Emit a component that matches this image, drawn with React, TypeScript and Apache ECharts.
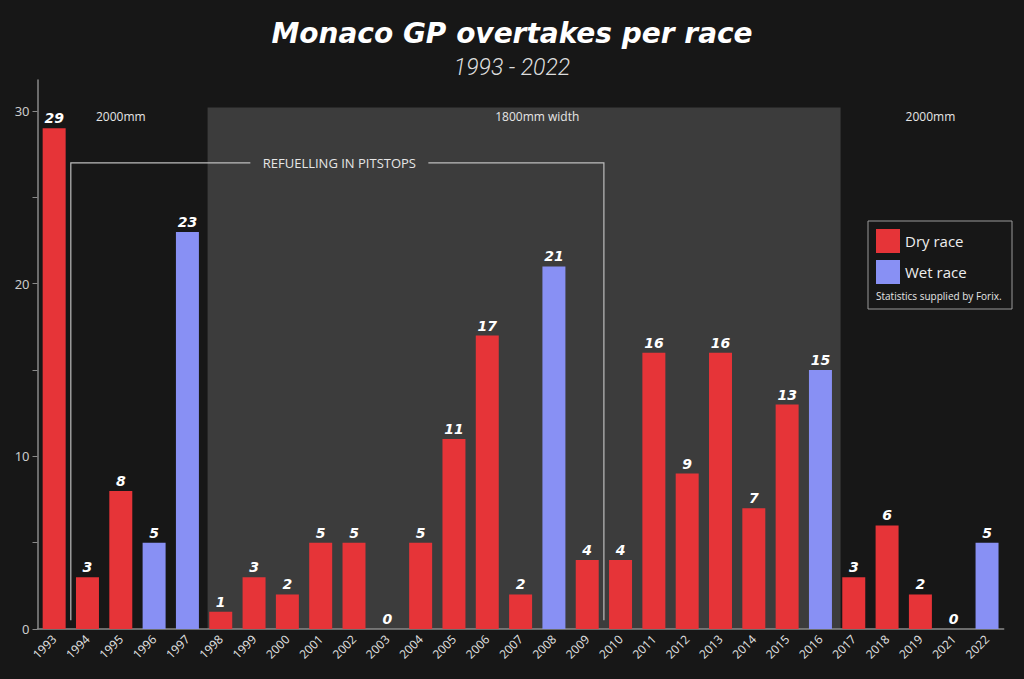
import React, { useEffect, useRef } from "react";
import * as echarts from "echarts";

const years = ["1993","1994","1995","1996","1997","1998","1999","2000","2001","2002","2003","2004","2005","2006","2007","2008","2009","2010","2011","2012","2013","2014","2015","2016","2017","2018","2019","2021","2022"];
const overtakes = [29,3,8,5,23,1,3,2,5,5,0,5,11,17,2,21,4,4,16,9,16,7,13,15,3,6,2,0,5];
const wetRace = [false,false,false,true,true,false,false,false,false,false,false,false,false,false,false,true,false,false,false,false,false,false,false,true,false,false,false,false,true];
const yTicks = [0,5,10,15,20,25,30];
const yLabels = [0,10,20,30];

const RED = "#e63438";
const BLUE = "#8890f4";
const BG = "#171717";
const SHADE = "#3c3c3c";

export default function App() {
  const ref = useRef<HTMLDivElement>(null);
  useEffect(() => {
    document.body.style.margin = "0";
    document.body.style.background = BG;
    const chart = echarts.init(ref.current!, null, { renderer: "svg" });
    const labelStyle = {
      show: true,
      position: "top" as const,
      distance: 3,
      color: "#ffffff",
      fontSize: 14,
      fontWeight: "bold" as const,
      fontStyle: "italic" as const,
      fontFamily: "DejaVu Sans",
    };
    chart.setOption({
      animation: false,
      backgroundColor: BG,
      title: {
        text: "Monaco GP overtakes per race",
        subtext: "1993 - 2022",
        left: "center",
        top: 14,
        itemGap: 9,
        textStyle: { color: "#ffffff", fontSize: 28, fontWeight: "bold", fontStyle: "italic", fontFamily: "DejaVu Sans" },
        subtextStyle: { color: "#dddddd", fontSize: 23, fontWeight: 300, fontStyle: "italic", fontFamily: "Roboto" },
      },
      legend: {
        data: ["Dry race", "Wet race"],
        orient: "vertical",
        left: 876,
        top: 229,
        icon: "rect",
        itemWidth: 24,
        itemHeight: 24,
        itemGap: 7,
        padding: 0,
        textStyle: { color: "#eeeeee", fontSize: 15, fontFamily: "Open Sans" },
      },
      grid: { left: 37.5, right: 20.3, top: 80, bottom: 50 },
      xAxis: {
        type: "category",
        data: years,
        axisLine: { lineStyle: { color: "#8a8a8a", width: 1.5 } },
        axisTick: { show: false },
        axisLabel: { color: "#dddddd", fontSize: 12, rotate: 45, fontFamily: "Noto Sans", margin: 8 },
      },
      yAxis: {
        type: "value",
        min: 0,
        max: 31.8,
        interval: 5,
        splitLine: { show: false },
        axisLine: { show: true, lineStyle: { color: "#8a8a8a", width: 1.5 } },
        axisTick: { show: true, length: 5, customValues: yTicks, lineStyle: { color: "#8a8a8a" } },
        axisLabel: { color: "#cccccc", fontSize: 13, fontFamily: "Noto Sans", customValues: yLabels },
      },
      series: [
        {
          name: "Dry race",
          type: "bar",
          barWidth: "69%",
          barGap: "-100%",
          z: 3,
          itemStyle: { color: RED },
          label: labelStyle,
          data: overtakes.map((v, i) => (wetRace[i] ? "-" : v)),
        },
        {
          name: "Wet race",
          type: "bar",
          barWidth: "69%",
          barGap: "-100%",
          z: 3,
          itemStyle: { color: BLUE },
          label: labelStyle,
          data: overtakes.map((v, i) => (wetRace[i] ? v : "-")),
        },
      ],
    });

    const px = (cat: string, v: number) => chart.convertToPixel({ gridIndex: 0 }, [cat, v]) as number[];
    const band = px("1994", 0)[0] - px("1993", 0)[0];
    const shadeL = px("1998", 0)[0] - band / 2 + 3.5;
    const shadeR = px("2016", 0)[0] + band / 2 + 3.5;
    const y0 = px("1993", 0)[1];
    const shadeTop = px("1993", 30.2)[1];
    const brL = px("1993", 0)[0] + band / 2;
    const brR = px("2009", 0)[0] + band / 2;
    const brTop = px("1993", 27)[1];
    const brBot = px("1993", 0.5)[1];
    const textY = px("1993", 29.7)[1];
    const annoFont = { fontFamily: "Open Sans", fontSize: 12, fill: "#e6e6e6" };
    const refText = "REFUELLING IN PITSTOPS";
    const refTextX = (brL + brR) / 2 + 2;
    const refTextHalf = 77;

    chart.setOption({
      graphic: [
        { type: "rect", z: 0, shape: { x: shadeL, y: shadeTop, width: shadeR - shadeL, height: y0 - shadeTop }, style: { fill: SHADE } },
        { type: "polyline", z: 1, shape: { points: [[brL, brBot], [brL, brTop], [refTextX - refTextHalf - 12, brTop]] }, style: { stroke: "#bdbdbd", lineWidth: 1.2, fill: null } },
        { type: "polyline", z: 1, shape: { points: [[refTextX + refTextHalf + 12, brTop], [brR, brTop], [brR, brBot]] }, style: { stroke: "#bdbdbd", lineWidth: 1.2, fill: null } },
        { type: "text", z: 5, x: refTextX, y: brTop, style: { text: refText, align: "center", verticalAlign: "middle", fontFamily: "Open Sans", fontSize: 13, fill: "#e6e6e6" } },
        { type: "text", z: 5, x: px("1995", 0)[0], y: textY, style: { text: "2000mm", align: "center", verticalAlign: "middle", ...annoFont } },
        { type: "text", z: 5, x: px("2007", 0)[0] + band / 2, y: textY, style: { text: "1800mm width", align: "center", verticalAlign: "middle", ...annoFont } },
        { type: "text", z: 5, x: px("2019", 0)[0] + 10, y: textY, style: { text: "2000mm", align: "center", verticalAlign: "middle", ...annoFont } },
        { type: "rect", z: 5, shape: { x: 868, y: 221, width: 144, height: 88 }, style: { fill: "none", stroke: "#9a9a9a", lineWidth: 1 } },
        { type: "text", z: 5, x: 876, y: 296, style: { text: "Statistics supplied by Forix.", align: "left", verticalAlign: "middle", fontFamily: "Open Sans", fontSize: 10, fill: "#e6e6e6" } },
      ],
    });
    return () => chart.dispose();
  }, []);
  return <div ref={ref} style={{ width: 1024, height: 679 }} />;
}
